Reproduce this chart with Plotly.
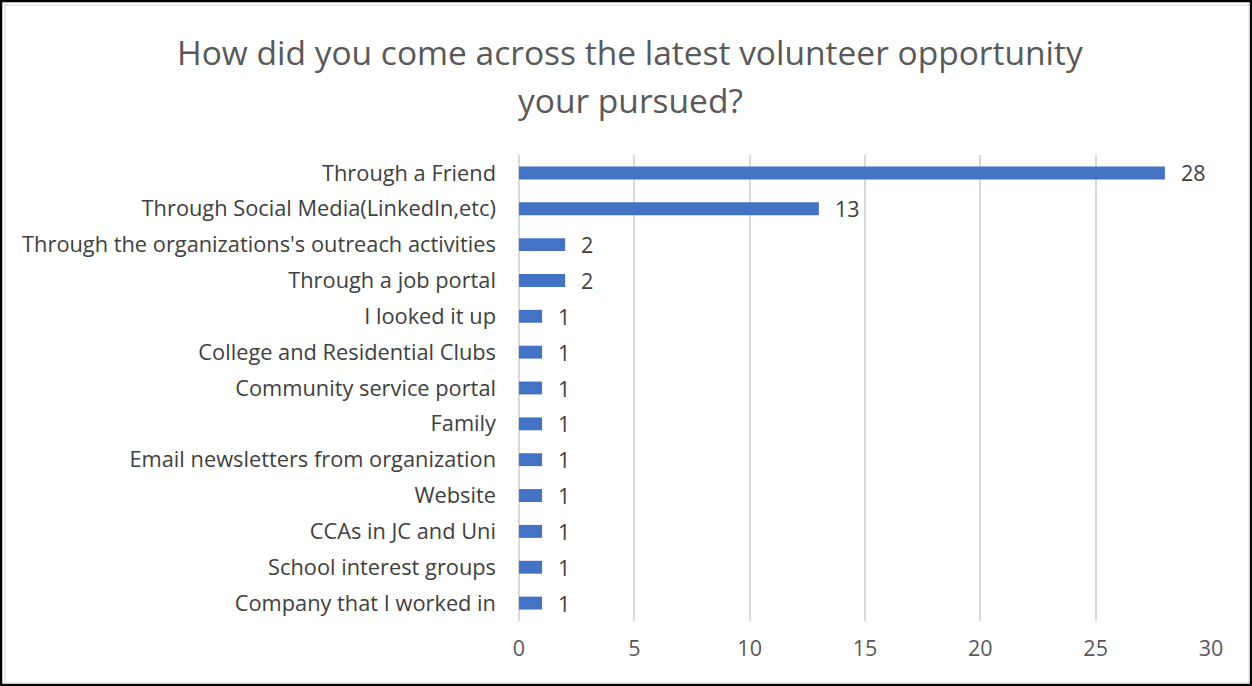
import plotly.graph_objects as go

categories = [
    "Through a Friend",
    "Through Social Media(LinkedIn,etc)",
    "Through the organizations's outreach activities",
    "Through a job portal",
    "I looked it up",
    "College and Residential Clubs",
    "Community service portal",
    "Family",
    "Email newsletters from organization",
    "Website",
    "CCAs in JC and Uni",
    "School interest groups",
    "Company that I worked in",
]
counts = [28, 13, 2, 2, 1, 1, 1, 1, 1, 1, 1, 1, 1]
title_line1 = "How did you come across the latest volunteer opportunity"
title_line2 = "your pursued?"

W, H = 1252, 686
ML, MR, MT, MB = 519, 41, 155, 65
pw, ph = W - ML - MR, H - MT - MB

FONT = "Open Sans"
fig = go.Figure()
fig.add_trace(go.Bar(
    x=counts, y=categories, orientation="h",
    marker=dict(color="#4472C4", line=dict(width=0)),
    width=0.36,
))
for c, v in zip(categories, counts):
    fig.add_annotation(x=v, y=c, text=str(v), showarrow=False, xanchor="left",
                       xshift=14, font=dict(family=FONT, size=21.5, color="#404040"))

def px_x(p):
    return (p - ML) / pw

def px_y(p):
    return 1 - (p - MT) / ph

# title as two annotations for exact line spacing
for txt, ypix in [(title_line1, 52), (title_line2, 100)]:
    fig.add_annotation(xref="paper", yref="paper", x=px_x(W / 2 + 4), y=px_y(ypix), text=txt,
                       showarrow=False, xanchor="center", yanchor="middle",
                       font=dict(family=FONT, size=33.5, color="#595959"))

shapes = [
    dict(type="rect", xref="paper", yref="paper", x0=px_x(1), x1=px_x(W - 1), y0=px_y(1), y1=px_y(H - 1),
         line=dict(color="#000000", width=2.5), fillcolor="rgba(0,0,0,0)", layer="above"),
    dict(type="rect", xref="paper", yref="paper", x0=px_x(5), x1=px_x(W - 3), y0=px_y(5), y1=px_y(H - 3),
         line=dict(color="#D9D9D9", width=1), fillcolor="rgba(0,0,0,0)", layer="above"),
]

fig.update_layout(
    width=W, height=H,
    margin=dict(l=ML, r=MR, t=MT, b=MB),
    paper_bgcolor="white", plot_bgcolor="white",
    showlegend=False,
    xaxis=dict(range=[0, 30], dtick=5, showgrid=True, gridcolor="#D9D9D9", gridwidth=1.5,
               zeroline=True, zerolinecolor="#D9D9D9", zerolinewidth=1.5, showline=False,
               ticks="", tickfont=dict(family=FONT, size=21.5, color="#595959"), ticklabelstandoff=12),
    yaxis=dict(autorange="reversed", showgrid=False, showline=False, ticks="",
               tickfont=dict(family=FONT, size=21.8, color="#404040"), ticklabelstandoff=22),
    shapes=shapes,
)
fig.write_html("out.html")
